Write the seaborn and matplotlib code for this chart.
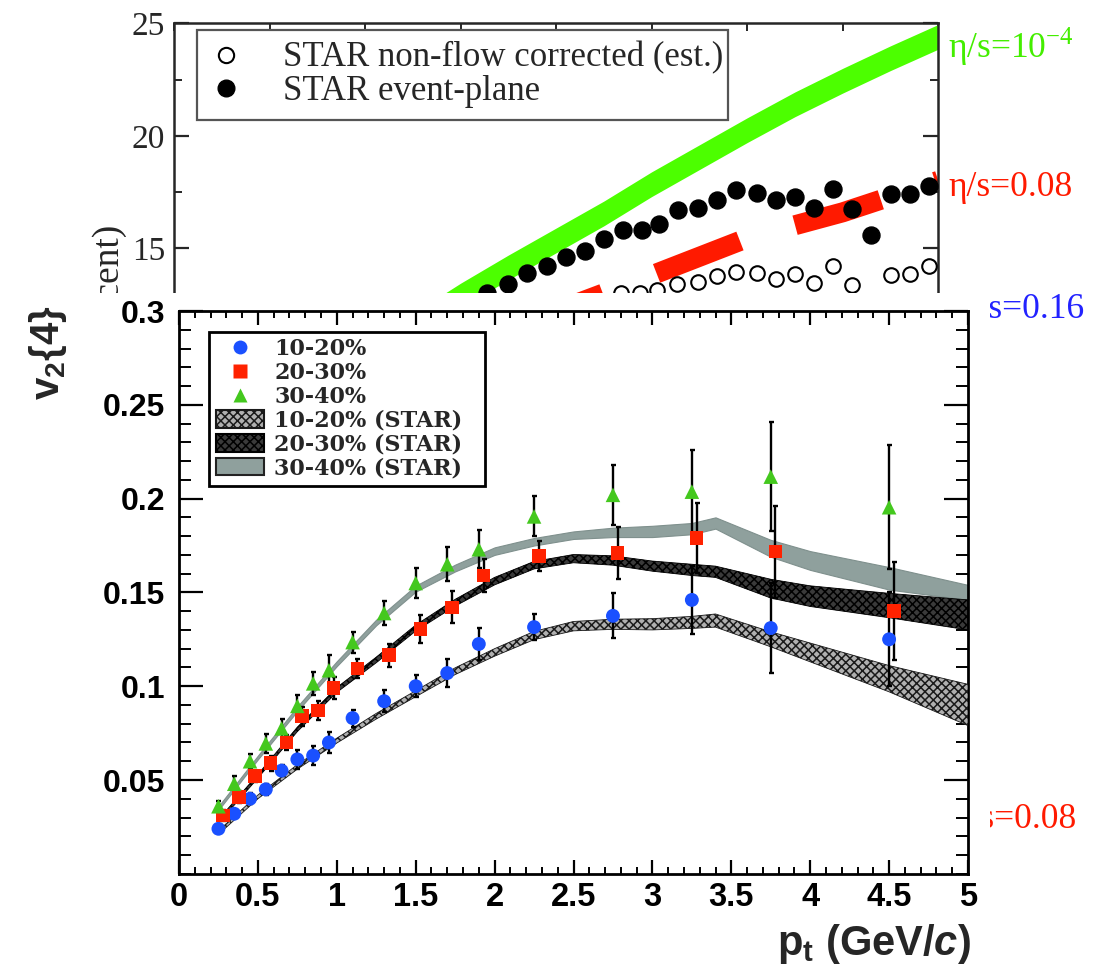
import numpy as np
import pandas as pd
import matplotlib
matplotlib.use("Agg")
import matplotlib.pyplot as plt
from matplotlib.patches import Rectangle, Patch
from matplotlib.lines import Line2D
from matplotlib.ticker import MultipleLocator, FixedLocator, FormatStrFormatter
import seaborn as sns

# ---------------- background panel (v2 in percent vs pt) ----------------
bg_pt_event = [1.64, 1.75, 1.85, 1.95, 2.05, 2.15, 2.25, 2.35, 2.45, 2.54, 2.64, 2.74,
               2.84, 2.94, 3.05, 3.15, 3.25, 3.35, 3.45, 3.55, 3.65, 3.75, 3.85, 3.95]
bg_v_event = [13.0, 13.4, 13.9, 14.2, 14.6, 14.9, 15.4, 15.8, 15.8, 16.1, 16.7, 16.8,
              17.15, 17.6, 17.45, 17.15, 17.3, 16.8, 17.65, 16.75, 15.6, 17.4, 17.4, 17.75]
bg_pt_nonflow = [2.34, 2.44, 2.53, 2.63, 2.74, 2.84, 2.94, 3.05, 3.15, 3.25, 3.35, 3.45,
                 3.55, 3.75, 3.85, 3.95]
bg_v_nonflow = [13.0, 13.0, 13.15, 13.4, 13.5, 13.75, 13.95, 13.9, 13.65, 13.85, 13.45,
                14.2, 13.35, 13.8, 13.85, 14.2]
bg_pt_ideal = [1.25, 1.5, 1.75, 2.0, 2.25, 2.5, 2.75, 3.0, 3.25, 3.5, 3.75, 4.0]
bg_ideal_lo = [11.0, 12.35, 13.6, 14.8, 16.0, 17.3, 18.5, 19.7, 20.85, 21.9, 22.9, 23.85]
bg_ideal_hi = [12.1, 13.45, 14.7, 15.9, 17.1, 18.4, 19.6, 20.8, 21.95, 23.0, 24.0, 24.95]
bg_pt_visc = [1.8, 2.0, 2.5, 3.0, 3.5, 4.0]
bg_v_visc = [11.4, 12.2, 13.8, 15.45, 16.6, 18.0]
bg_legend_labels = ["STAR non-flow corrected (est.)", "STAR event-plane"]
bg_curve_labels = ["η/s=10$^{-4}$", "η/s=0.08", "η/s=0.16", "η/s=0.08"]
bg_ylabel = "(percent)"
bg_yticks = [15, 20, 25]

# ---------------- foreground panel: v2{4} vs pt ----------------
pt_1020 = [0.25, 0.35, 0.45, 0.55, 0.65, 0.75, 0.85, 0.95, 1.1, 1.3, 1.5, 1.7, 1.9,
           2.25, 2.75, 3.25, 3.75, 4.5]
v_1020 = [0.024, 0.032, 0.040, 0.045, 0.055, 0.061, 0.063, 0.070, 0.083, 0.092, 0.100,
          0.107, 0.1225, 0.1315, 0.1375, 0.146, 0.131, 0.125]
e_1020 = [0.002, 0.002, 0.003, 0.003, 0.003, 0.005, 0.005, 0.0058, 0.0045, 0.0058, 0.006,
          0.0075, 0.0084, 0.007, 0.012, 0.018, 0.024, 0.025]
pt_2030 = [0.28, 0.38, 0.48, 0.58, 0.68, 0.78, 0.88, 0.98, 1.13, 1.33, 1.53, 1.73, 1.93,
           2.28, 2.78, 3.28, 3.78, 4.53]
v_2030 = [0.031, 0.041, 0.052, 0.059, 0.070, 0.084, 0.087, 0.099, 0.1095, 0.1165, 0.1305,
          0.142, 0.159, 0.1695, 0.171, 0.179, 0.1717, 0.140]
e_2030 = [0.003, 0.003, 0.003, 0.004, 0.004, 0.005, 0.005, 0.006, 0.005, 0.006, 0.0075,
          0.0085, 0.009, 0.008, 0.0138, 0.0186, 0.0245, 0.026]
pt_3040 = [0.25, 0.35, 0.45, 0.55, 0.65, 0.75, 0.85, 0.95, 1.1, 1.3, 1.5, 1.7, 1.9,
           2.25, 2.75, 3.25, 3.75, 4.5]
v_3040 = [0.036, 0.048, 0.060, 0.0695, 0.0775, 0.0895, 0.1015, 0.1085, 0.1235, 0.139,
          0.155, 0.165, 0.173, 0.1905, 0.202, 0.2037, 0.2117, 0.1954]
e_3040 = [0.003, 0.004, 0.004, 0.005, 0.005, 0.006, 0.006, 0.008, 0.0056, 0.0065, 0.008,
          0.009, 0.010, 0.0107, 0.016, 0.022, 0.029, 0.033]

pt_star = [0.25, 0.5, 0.75, 1.0, 1.25, 1.5, 1.75, 2.0, 2.25, 2.5, 2.75, 3.0, 3.25, 3.4,
           3.75, 4.0, 4.5, 5.0]
star1020_lo = [0.021, 0.040, 0.0558, 0.0697, 0.0825, 0.0944, 0.1062, 0.116, 0.1248, 0.1295,
               0.1303, 0.130, 0.1308, 0.1315, 0.121, 0.113, 0.097, 0.079]
star1020_hi = [0.023, 0.042, 0.0582, 0.0723, 0.0855, 0.0976, 0.1098, 0.120, 0.1292, 0.1345,
               0.1357, 0.136, 0.1372, 0.1385, 0.129, 0.123, 0.111, 0.101]
star2030_lo = [0.027, 0.051, 0.0758, 0.0967, 0.1125, 0.1294, 0.1427, 0.154, 0.1625, 0.1658,
               0.1645, 0.1613, 0.159, 0.158, 0.147, 0.1425, 0.1365, 0.130]
star2030_hi = [0.029, 0.053, 0.0782, 0.0993, 0.1155, 0.1326, 0.1463, 0.158, 0.1665, 0.1702,
               0.1695, 0.1667, 0.165, 0.164, 0.157, 0.1535, 0.1495, 0.146]
star3040_lo = [0.034, 0.061, 0.0868, 0.1107, 0.1325, 0.1504, 0.1612, 0.170, 0.175, 0.1785,
               0.1795, 0.1795, 0.181, 0.184, 0.169, 0.162, 0.1515, 0.146]
star3040_hi = [0.036, 0.063, 0.0892, 0.1133, 0.1355, 0.1536, 0.1648, 0.174, 0.179, 0.1825,
               0.1845, 0.1855, 0.187, 0.190, 0.178, 0.172, 0.1635, 0.154]

fg_legend_labels = ["10-20%", "20-30%", "30-40%", "10-20% (STAR)", "20-30% (STAR)",
                    "30-40% (STAR)"]
fg_yticks = [0.05, 0.1, 0.15, 0.2, 0.25, 0.3]

# ---------------- style ----------------
sns.set_style("ticks")
plt.rcParams.update({
    "font.family": ["Liberation Sans", "DejaVu Sans"],
    "mathtext.fontset": "custom",
    "mathtext.rm": "Liberation Serif",
    "mathtext.bf": "Liberation Sans:bold",
    "mathtext.it": "Liberation Sans:italic:bold",
    "lines.scale_dashes": False,
    "hatch.linewidth": 1.1,
})

W, H = 1102, 968
fig = plt.figure(figsize=(W / 100, H / 100), dpi=100)
fig.patch.set_facecolor("white")


def fx(px):
    return px / W


def fy(py):
    return 1 - py / H


# ======== background axes ========
ax_bg = fig.add_axes([fx(174), fy(585.8), fx(938.3) - fx(174), fy(23.3) - fy(585.8)], zorder=0)
ax_bg.fill_between(bg_pt_ideal, bg_ideal_lo, bg_ideal_hi, color="#4cff00", lw=0, zorder=2)
ax_bg.plot(bg_pt_visc, bg_v_visc, color="#ff1a00", lw=14.4, ls=(103.7, (64.4, 41.3)),
           dash_capstyle="butt", zorder=2)
sns.scatterplot(x=bg_pt_event, y=bg_v_event, ax=ax_bg, marker="o", s=150, color="black",
                edgecolor="black", legend=False, zorder=3)
sns.scatterplot(x=bg_pt_nonflow, y=bg_v_nonflow, ax=ax_bg, marker="o", s=110, color="white",
                edgecolor="black", linewidth=1.5, legend=False, zorder=3)
ax_bg.set_xlim(0, 4)
ax_bg.set_ylim(0, 25)
ax_bg.xaxis.set_major_locator(MultipleLocator(0.5))
ax_bg.yaxis.set_major_locator(FixedLocator(bg_yticks))
ax_bg.yaxis.set_minor_locator(MultipleLocator(2.5))
ax_bg.tick_params(which="both", direction="in", top=True, right=True, labelbottom=False)
ax_bg.tick_params(axis="y", which="major", length=11, width=1.6, pad=6.5, labelsize=24,
                  labelfontfamily="Liberation Serif")
ax_bg.tick_params(axis="y", which="minor", length=6, width=1.4)
ax_bg.tick_params(axis="x", which="major", length=5.5, width=1.4)
for sp in ax_bg.spines.values():
    sp.set_linewidth(1.8)
ax_bg.set_xlabel("")
ax_bg.set_ylabel("")
ylab_bg = ax_bg.text(fx(108), fy(223), bg_ylabel, transform=fig.transFigure, rotation=90,
                     ha="center", va="top", fontsize=27, family="Liberation Serif")
ylab_bg.set_clip_path(Rectangle((0, fy(293)), 1, 1 - fy(293), transform=fig.transFigure))
bg_label_colors = ["#44ee00", "#ff1a00", "#2222ff", "#ff1a00"]
bg_label_x = [948, 948, 960, 952]
bg_label_y = [47, 188, 310, 820]
for lab, col, xx, yy in zip(bg_curve_labels, bg_label_colors, bg_label_x, bg_label_y):
    ax_bg.text(fx(xx), fy(yy), lab, transform=fig.transFigure, ha="left", va="center",
               fontsize=25.5, color=col, family="Liberation Serif")
bg_handles = [
    Line2D([], [], ls="none", marker="o", ms=11, mfc="white", mec="black", mew=1.5),
    Line2D([], [], ls="none", marker="o", ms=12, mfc="black", mec="black"),
]
leg_bg = ax_bg.legend(bg_handles, bg_legend_labels, loc="upper left",
                      bbox_to_anchor=(0.0305, 0.988, 0.6948, 0.0), mode="expand",
                      borderaxespad=0,
                      prop={"family": "Liberation Serif", "size": 25},
                      handlelength=1.0, handletextpad=1.15, borderpad=0.33,
                      labelspacing=0.02, fancybox=False, edgecolor="#555555",
                      framealpha=1, numpoints=1)
leg_bg.get_frame().set_linewidth(1.6)

# ======== white cover of the front panel ========
fig.add_artist(Rectangle((0, 0), fx(990), fy(293), transform=fig.transFigure,
                         facecolor="white", edgecolor="none", zorder=1))

# ======== foreground axes ========
ax = fig.add_axes([fx(179), fy(873.8), fx(968) - fx(179), fy(311) - fy(873.8)], zorder=2)
ax.set_facecolor("white")

c_blue, c_red, c_green = "#1a50ff", "#ff2200", "#44c81e"
gray = "#8fa09d"
ax.fill_between(pt_star, star3040_lo, star3040_hi, facecolor=gray, edgecolor="#7f908d",
                lw=0.8, zorder=1)
ax.fill_between(pt_star, star2030_lo, star2030_hi, facecolor="#3a3a3a", edgecolor="#000000",
                hatch="xxxx", lw=0.6, zorder=2)
ax.fill_between(pt_star, star1020_lo, star1020_hi, facecolor="#b0b0b0", edgecolor="#1a1a1a",
                hatch="xxxx", lw=0.6, zorder=3)

for p, v, e in [(pt_1020, v_1020, e_1020), (pt_2030, v_2030, e_2030), (pt_3040, v_3040, e_3040)]:
    ax.errorbar(p, v, yerr=e, fmt="none", ecolor="black", elinewidth=1.7, capsize=1.8,
                capthick=1.7, zorder=4)

sns.scatterplot(x=pt_1020, y=v_1020, ax=ax, marker="o", s=100, color=c_blue, edgecolor="none",
                legend=False, zorder=5)
sns.scatterplot(x=pt_2030, y=v_2030, ax=ax, marker="s", s=95, color=c_red, edgecolor="none",
                legend=False, zorder=5)
sns.scatterplot(x=pt_3040, y=v_3040, ax=ax, marker="^", s=110, color=c_green, edgecolor="none",
                legend=False, zorder=5)

ax.set_xlim(0, 5)
ax.set_ylim(0, 0.3)
ax.xaxis.set_major_locator(MultipleLocator(0.5))
ax.xaxis.set_minor_locator(MultipleLocator(0.1))
ax.yaxis.set_major_locator(FixedLocator(fg_yticks))
ax.yaxis.set_minor_locator(MultipleLocator(0.01))
ax.xaxis.set_major_formatter(FormatStrFormatter("%g"))
ax.yaxis.set_major_formatter(FormatStrFormatter("%g"))
ax.tick_params(which="both", direction="in", top=True, right=True, colors="black")
ax.tick_params(axis="y", which="major", length=17, width=1.6, pad=10, labelsize=23,
               labelfontfamily="Liberation Sans")
ax.tick_params(axis="y", which="minor", length=8.5, width=1.4)
ax.tick_params(axis="x", which="major", length=10, width=1.6, pad=6, labelsize=23.5,
               labelfontfamily="Liberation Sans")
ax.tick_params(axis="x", which="minor", length=5, width=1.4)
for lab in ax.get_xticklabels() + ax.get_yticklabels():
    lab.set_fontweight("bold")
for sp in ax.spines.values():
    sp.set_linewidth(2.0)
    sp.set_color("black")

ax.set_ylabel(r"$\mathbf{v}_\mathbf{2}${4}", loc="top", fontsize=29, fontweight="bold")
ax.yaxis.set_label_coords(-0.139, 1.01)
ax.set_xlabel(r"$\mathbf{p}_\mathbf{t}$ (GeV/$c$)", loc="right", fontsize=30, fontweight="bold")
ax.xaxis.set_label_coords(1.003, -0.086)

fg_handles = [
    Line2D([], [], ls="none", marker="o", ms=10, mfc=c_blue, mec="none"),
    Line2D([], [], ls="none", marker="s", ms=9.5, mfc=c_red, mec="none"),
    Line2D([], [], ls="none", marker="^", ms=10.5, mfc=c_green, mec="none"),
    Patch(facecolor="#b0b0b0", edgecolor="#1a1a1a", hatch="xxxx", lw=1.5),
    Patch(facecolor="#3a3a3a", edgecolor="#000000", hatch="xxxx", lw=1.5),
    Patch(facecolor=gray, edgecolor="#222222", lw=1.5),
]
leg = ax.legend(fg_handles, fg_legend_labels, loc="upper left",
                bbox_to_anchor=(0.0384, 0.9622, 0.3494, 0.0), mode="expand",
                borderaxespad=0, prop={"family": "DejaVu Serif", "weight": "bold", "size": 16},
                handlelength=2.2, handleheight=0.82, handletextpad=0.45, labelspacing=0.08,
                borderpad=0.28, fancybox=False, edgecolor="black", framealpha=1, numpoints=1)
leg.get_frame().set_linewidth(2.0)

fig.savefig("out.png", dpi=100, facecolor="white")
